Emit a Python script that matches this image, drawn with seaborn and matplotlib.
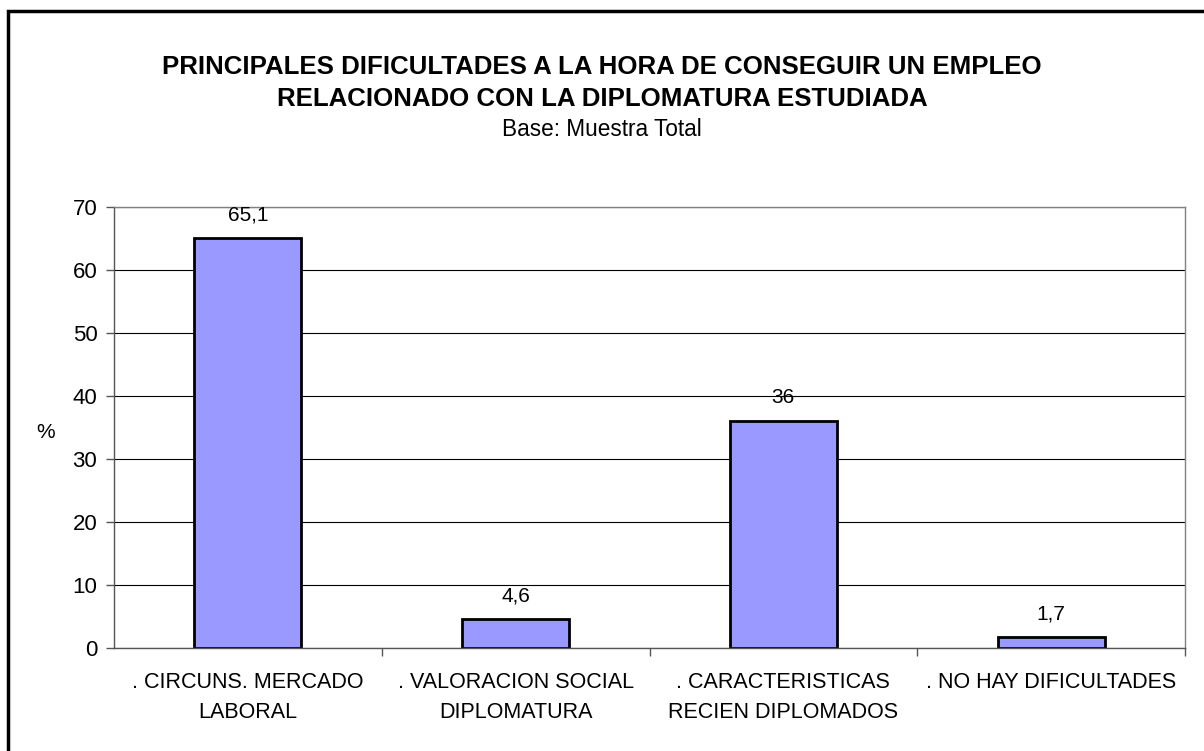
import matplotlib
matplotlib.use("Agg")
import matplotlib.pyplot as plt
import seaborn as sns
import pandas as pd
from matplotlib.patches import Rectangle

categorias = [". CIRCUNS. MERCADO\nLABORAL", ". VALORACION SOCIAL\nDIPLOMATURA",
              ". CARACTERISTICAS\nRECIEN DIPLOMADOS", ". NO HAY DIFICULTADES"]
porcentajes = [65.1, 4.6, 36.0, 1.7]
yticks = [0, 10, 20, 30, 40, 50, 60, 70]

df = pd.DataFrame({"cat": categorias, "pct": porcentajes})

sns.set_style("white")
plt.rcParams['font.family'] = ['Liberation Sans', 'DejaVu Sans']
plt.rcParams['text.color'] = 'black'
plt.rcParams['xtick.color'] = 'black'
plt.rcParams['ytick.color'] = 'black'
plt.rcParams['axes.labelcolor'] = 'black'

W, H = 1204, 751
fig = plt.figure(figsize=(W / 100, H / 100), dpi=100)
ax = fig.add_axes([114 / W, 1 - 648 / H, (1185 - 114) / W, (648 - 207) / H])

sns.barplot(data=df, x="cat", y="pct", color="#9999FF", saturation=1,
            width=0.4, edgecolor="black", linewidth=2, ax=ax)

ax.set_ylim(0, 70)
ax.set_xlim(-0.5, 3.5)
ax.set_yticks(yticks)
ax.set_axisbelow(True)
ax.yaxis.grid(True, color="black", linewidth=0.8)

for sp in ax.spines.values():
    sp.set_visible(True)
    sp.set_color("#808080")
    sp.set_linewidth(1)
ax.spines["left"].set_color("#555555")
ax.spines["bottom"].set_color("#555555")

ax.tick_params(axis="y", labelsize=16, length=6, width=1, left=True, pad=6)
ax.tick_params(axis="y", color="#555555")
ax.set_xticks([0, 1, 2, 3])
ax.set_xticklabels(categorias, fontsize=15.5, linespacing=1.6)
ax.tick_params(axis="x", length=0, pad=17)
ax.set_xticks([0.5, 1.5, 2.5, 3.5], minor=True)
ax.tick_params(axis="x", which="minor", length=6, width=1, color="#555555", bottom=True)
ax.set_xlabel("")
ax.set_ylabel("")
fig.text(46 / W, 1 - 432 / H, "%", ha="center", va="center", fontsize=15)

for i, v in enumerate(porcentajes):
    ax.text(i, v + 2.2, f"{v:g}".replace(".", ","), ha="center", va="bottom", fontsize=15)

fig.text(0.5, 1 - 67 / H, "PRINCIPALES DIFICULTADES A LA HORA DE CONSEGUIR UN EMPLEO",
         ha="center", va="center", fontsize=18.6, fontweight="bold")
fig.text(0.5, 1 - 99 / H, "RELACIONADO CON LA DIPLOMATURA ESTUDIADA",
         ha="center", va="center", fontsize=18.6, fontweight="bold")
fig.text(0.5, 1 - 130 / H, "Base: Muestra Total", ha="center", va="center", fontsize=16.3)

fig.patches.append(Rectangle((8 / W, -0.1), 1.1, 1.1 - 11 / H, transform=fig.transFigure,
                             fill=False, edgecolor="black", linewidth=2.5, clip_on=False))

fig.savefig("out.png", dpi=100)
